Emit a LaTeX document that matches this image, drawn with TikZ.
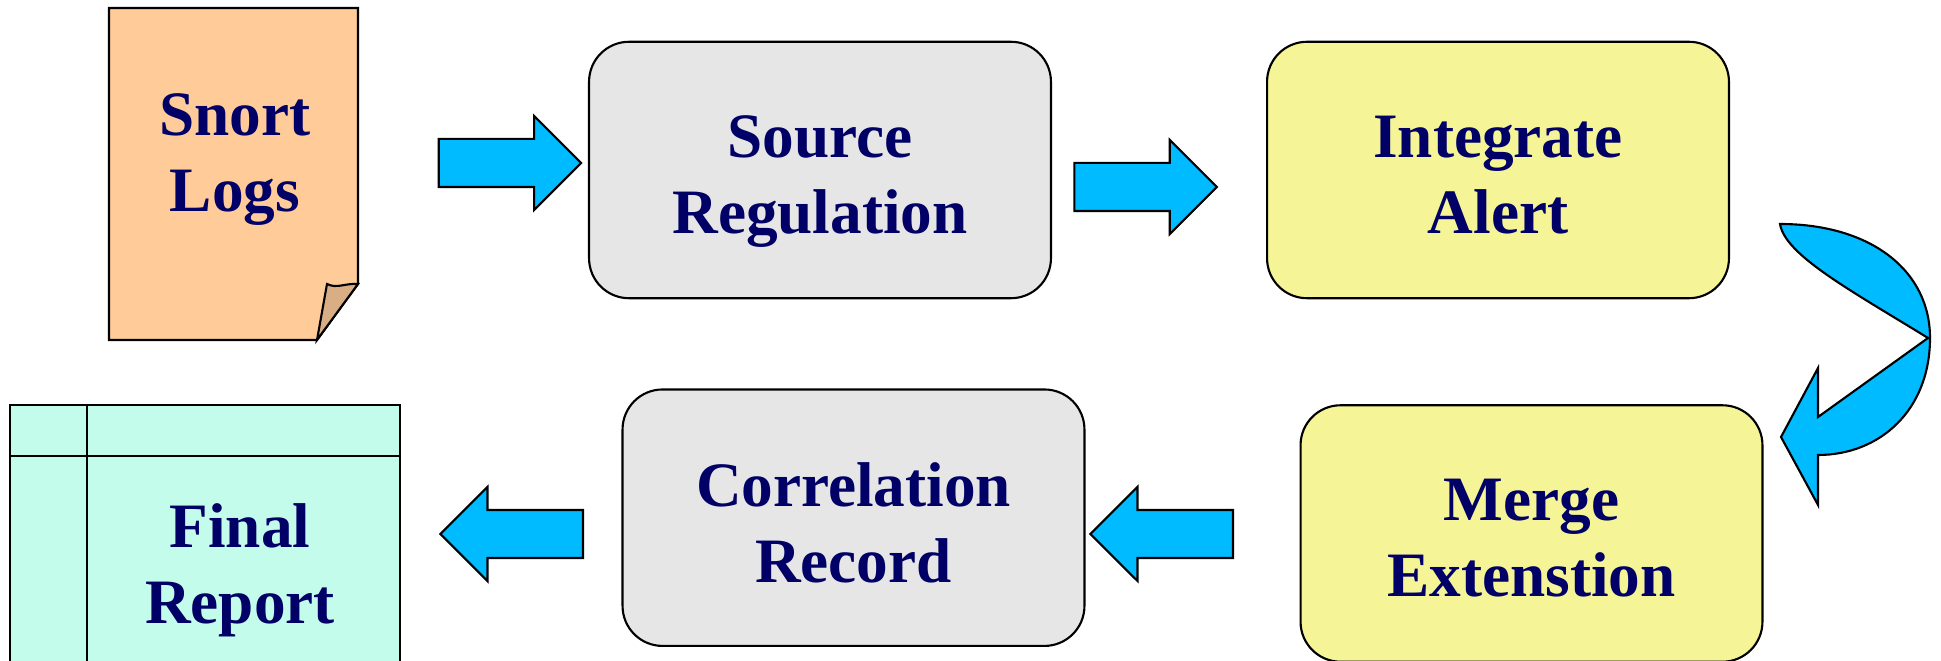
\documentclass[tikz,border=0pt]{standalone}
\usepackage{fontspec}
\setmainfont{Liberation Serif}
\usetikzlibrary{shapes.arrows}
\definecolor{navy}{HTML}{000066}
\definecolor{boxgray}{HTML}{E6E6E6}
\definecolor{boxyellow}{HTML}{F5F597}
\definecolor{logpeach}{HTML}{FFCC99}
\definecolor{logfold}{HTML}{D9AE85}
\definecolor{reportcyan}{HTML}{C4FCEC}
\definecolor{arrowblue}{HTML}{00BBFF}
\tikzset{procbox/.style={draw, rounded corners=0.8cm, minimum width=9.24cm, minimum height=5.13cm, line width=1.2pt},
  boxtext/.style={align=center, text=navy, font=\fontsize{36}{43.4}\selectfont\bfseries,
    execute at begin node=\strut, execute at end node=\strut},
  flowarrow/.style={draw, fill=arrowblue, line width=1.2pt, single arrow, anchor=tail,
    single arrow head extend=0.46cm, minimum height=2.85cm, inner sep=0.46cm}}

\begin{document}
\begin{tikzpicture}[x=0.02cm, y=-0.02cm]
    \useasboundingbox (0,0) rectangle (1941,661);
    \draw[fill=logpeach, line width=1.2pt] (109,8) -- (358,8) -- (358,284) -- (317,340) -- (109,340) -- cycle;
    \draw[fill=logfold, line width=1.2pt] (317,340) -- (327,284) .. controls (337,289) and (345,283) .. (358,284) -- cycle;
    \node[boxtext] (logs) at (235,164) {Snort\\Logs};

    \node[procbox, fill=boxgray] (source) at (820,170) {};
    \node[boxtext, yshift=-0.32cm] (sourcetxt) at (source) {Source\\Regulation};
    \node[procbox, fill=boxyellow] (integrate) at (1498,170) {};
    \node[boxtext, yshift=-0.32cm] (integratetxt) at (integrate) {Integrate\\Alert};
    \node[procbox, fill=boxyellow] (merge) at (1531.5,533.5) {};
    \node[boxtext, yshift=-0.32cm] (mergetxt) at (merge) {Merge\\Extenstion};
    \node[procbox, fill=boxgray] (correlation) at (853.5,517.7) {};
    \node[boxtext, yshift=-0.32cm] (correlationtxt) at (correlation) {Correlation\\Record};

    \draw[fill=reportcyan, line width=1.2pt] (10,405) rectangle (400,690);
    \draw[line width=1.2pt] (10,456) -- (400,456);
    \draw[line width=1.2pt] (87,405) -- (87,690);
    \node[boxtext] (report) at (240,575) {Final\\Report};

    \node[flowarrow] (a-1) at (437.7,163) {};
    \node[flowarrow] (a-2) at (1073.3,187) {};
    \node[flowarrow, shape border rotate=180] (a-3) at (1234,534) {};
    \node[flowarrow, shape border rotate=180] (a-4) at (584,534) {};

    \draw[fill=arrowblue, line width=1.2pt] (1780,224) .. controls (1870,224) and (1930,270) .. (1930,338)
      .. controls (1930,410) and (1880,455) .. (1818,455) -- (1818,505) -- (1781,437) -- (1818,368)
      -- (1818,417) -- (1928,338) .. controls (1850,290) and (1785,255) .. (1780,224) -- cycle;
\end{tikzpicture}
\end{document}
